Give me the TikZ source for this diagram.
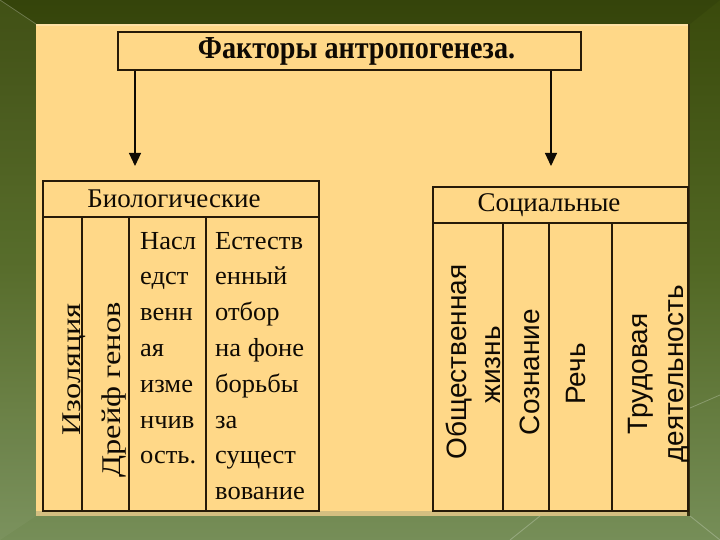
\documentclass[tikz,border=0pt]{standalone}
\usepackage{fontspec}
\setmainfont{Liberation Serif}
\newfontfamily\sansf{Liberation Sans}
\newfontfamily\wideserif[FakeStretch=1.02]{Liberation Serif}
\newfontfamily\rotserif[FakeStretch=1.2]{Liberation Serif}
\newfontfamily\titleserif[FakeStretch=0.88]{Liberation Serif}
\usetikzlibrary{arrows.meta}
\definecolor{bgtop}{RGB}{58,74,12}
\definecolor{bgmid}{RGB}{82,104,36}
\definecolor{bgbot}{RGB}{118,142,88}
\definecolor{beige}{RGB}{255,216,136}
\definecolor{tanstrip}{RGB}{212,190,128}
\definecolor{darkedge}{RGB}{55,50,18}
\definecolor{ink}{RGB}{38,26,8}
\definecolor{txt}{RGB}{15,10,3}
\tikzset{
  tbl/.style={draw=ink, line width=1.4pt},
  boxnode/.style={draw=ink, line width=1.4pt, fill=beige, inner sep=0pt, text=txt},
  arr/.style={draw=txt, line width=1.1pt, -{Triangle[width=12pt,length=13pt]}},
  bodytxt/.style={inner sep=0pt, text=txt, font=\wideserif\fontsize{26}{26}\selectfont},
  rottxt/.style={inner sep=0pt, text=txt, rotate=90, font=\rotserif\fontsize{27}{27}\selectfont},
  soctxt/.style={inner sep=0pt, text=txt, rotate=90, anchor=base, font=\sansf\fontsize{28}{28}\selectfont},
  bevel/.style={draw=white, draw opacity=0.25, line width=0.8pt}
}
\begin{document}
\begin{tikzpicture}[x=1pt,y=-1pt]
\useasboundingbox (0,0) rectangle (720,540);
% background
\shade[top color=bgtop, bottom color=bgbot, middle color=bgmid] (0,0) rectangle (720,540);
\fill[black, opacity=0.08] (0,0) -- (720,0) -- (690,24) -- (36,24) -- cycle;
\fill[white, opacity=0.04] (0,0) -- (36,24) -- (36,516) -- (0,540) -- cycle;
\draw[bevel] (0,0) -- (36,24);
\draw[bevel] (690,516) -- (720,540);
\draw[bevel] (540,516) -- (510,540);
\draw[bevel] (690,408) -- (720,395);
% panel
\fill[tanstrip] (36,510) rectangle (690,516);
\fill[darkedge] (687,24) rectangle (690,516);
\fill[beige] (36,24) rectangle (688,511);
\fill[white, opacity=0.25] (36,24) rectangle (688,26);
% title
\node[boxnode, minimum width=463pt, minimum height=38pt] (title) at (349.5,51)
  {\hspace*{14pt}\titleserif\bfseries\fontsize{32}{32}\selectfont Факторы антропогенеза.};
\coordinate (bt) at (135,166);
\coordinate (st) at (551,166);
\draw[arr] (title.south -| bt) -- (bt);
\draw[arr] (title.south -| st) -- (st);
% biological table
\node[boxnode, minimum width=276pt, minimum height=36pt] (bioh) at (181,199)
  {\fontsize{27}{27}\selectfont Биологические\hspace*{14pt}};
\draw[tbl] (43,217) rectangle (319,511);
\draw[tbl] (82,217) -- (82,511);
\draw[tbl] (129,217) -- (129,511);
\draw[tbl] (206,217) -- (206,511);
\node[rottxt, anchor=base east] (iso) at (80,303) {Изоляция};
\node[rottxt, anchor=base east] (drift) at (120,302) {Дрейф генов};
\foreach \t [count=\i] in {Насл,едст,венн,ая,изме,нчив,ость.}
  \node[bodytxt, anchor=base west] (h\i) at (140,{249+35.8*(\i-1)}) {\t};
\foreach \t [count=\i] in {Естеств,енный,отбор,на фоне,борьбы,за,сущест,вование}
  \node[bodytxt, anchor=base west] (n\i) at (215,{249+35.8*(\i-1)}) {\t};
% social table
\node[boxnode, minimum width=255pt, minimum height=36pt] (soch) at (560.5,205)
  {\fontsize{27}{27}\selectfont Социальные\hspace*{23pt}};
\draw[tbl] (433,223) rectangle (688,511);
\draw[tbl] (503,223) -- (503,511);
\draw[tbl] (549,223) -- (549,511);
\draw[tbl] (612,223) -- (612,511);
\node[soctxt] (s1a) at (466,362) {Общественная};
\node[soctxt] (s1b) at (500,365) {жизнь};
\node[soctxt] (s2) at (539,372) {Сознание};
\node[soctxt] (s3) at (585,374) {Речь};
\node[soctxt] (s4a) at (647,374) {Трудовая};
\node[soctxt] (s4b) at (683,374) {деятельность};
\end{tikzpicture}
\end{document}
